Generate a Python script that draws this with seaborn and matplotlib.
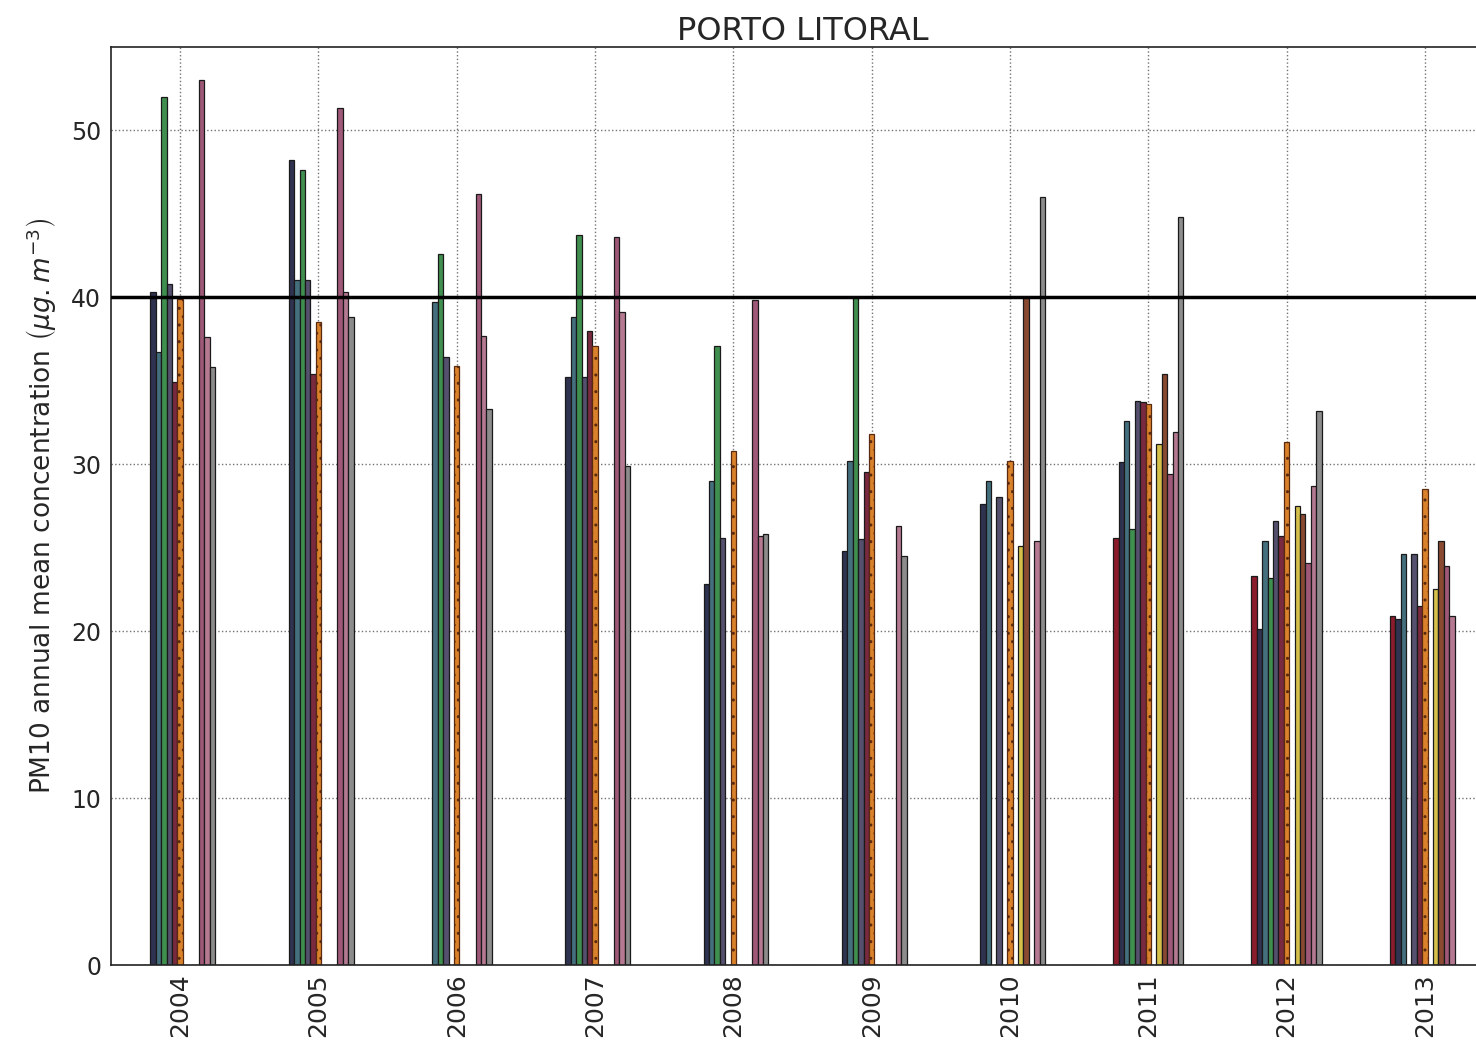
import numpy as np
import pandas as pd
import matplotlib
matplotlib.use("Agg")
import matplotlib.pyplot as plt
import seaborn as sns

# =====================================================================
# DATA: PM10 annual means per station, one list per year (NaN = no data)
# =====================================================================
years = ["2004", "2005", "2006", "2007", "2008", "2009", "2010", "2011", "2012", "2013"]
stations = ["S01", "S02", "S03", "S04", "S05", "S06", "S07",
            "S08", "S09", "S10", "S11", "S12", "S13"]
station_colors = ["#8b1c2c", "#2f3350", "#44707e", "#3f8f4f", "#54506e", "#7a2a3e", "#d9822b",
                  "#b0a0c0", "#d4c04a", "#8a4a32", "#a05878", "#b57a92", "#8c8c8c"]

nan = np.nan
pm10_2004 = [nan, 40.3, 36.7, 52.0, 40.8, 34.9, 39.9, nan, nan, nan, 53.0, 37.6, 35.8]
pm10_2005 = [nan, 48.2, 41.0, 47.6, 41.0, 35.4, 38.5, nan, nan, nan, 51.3, 40.3, 38.8]
pm10_2006 = [nan, nan, 39.7, 42.6, 36.4, nan, 35.9, nan, nan, nan, 46.2, 37.7, 33.3]
pm10_2007 = [nan, 35.2, 38.8, 43.7, 35.2, 38.0, 37.1, nan, nan, nan, 43.6, 39.1, 29.9]
pm10_2008 = [nan, 22.8, 29.0, 37.1, 25.6, nan, 30.8, nan, nan, nan, 39.8, 25.7, 25.8]
pm10_2009 = [nan, 24.8, 30.2, 40.0, 25.5, 29.5, 31.8, nan, nan, nan, nan, 26.3, 24.5]
pm10_2010 = [nan, 27.6, 29.0, nan, 28.0, nan, 30.2, nan, 25.1, 40.0, nan, 25.4, 46.0]
pm10_2011 = [25.6, 30.1, 32.6, 26.1, 33.8, 33.7, 33.6, nan, 31.2, 35.4, 29.4, 31.9, 44.8]
pm10_2012 = [23.3, 20.1, 25.4, 23.2, 26.6, 25.7, 31.3, nan, 27.5, 27.0, 24.1, 28.7, 33.2]
pm10_2013 = [20.9, 20.7, 24.6, nan, 24.6, 21.5, 28.5, nan, 22.5, 25.4, 23.9, 20.9, nan]

limit_value = 40

all_years = [pm10_2004, pm10_2005, pm10_2006, pm10_2007, pm10_2008,
             pm10_2009, pm10_2010, pm10_2011, pm10_2012, pm10_2013]

rows = []
for yr, vals in zip(years, all_years):
    for st, v in zip(stations, vals):
        rows.append({"year": yr, "station": st, "pm10": v})
df = pd.DataFrame(rows).dropna()

# =====================================================================
# PLOT
# =====================================================================
sns.set_style("white")
plt.rcParams['font.family'] = ['DejaVu Sans']

fig = plt.figure(figsize=(14.76, 10.46), dpi=100)
ax = fig.add_axes([0.0752, 0.0774, 0.937, 0.878])

sns.barplot(data=df, x="year", y="pm10", hue="station",
            order=years, hue_order=stations, palette=station_colors,
            width=0.507, gap=0, dodge=True, saturation=1, errorbar=None,
            edgecolor="#1a1a1a", linewidth=0.9, legend=False, ax=ax)

# orange station gets the dotted hatch
for p in ax.patches:
    fc = p.get_facecolor()
    if abs(fc[0] - 0xd9 / 255) < 0.01 and abs(fc[1] - 0x82 / 255) < 0.01:
        p.set_hatch("..")
        p.set_edgecolor("#5a2a10")

ax.axhline(limit_value, color="black", linewidth=2.5, zorder=5)

ax.set_xlim(-0.5, 9.5)
ax.set_ylim(0, 55)
ax.set_yticks([0, 10, 20, 30, 40, 50])
ax.set_axisbelow(True)
ax.grid(True, linestyle=":", color="0.45", linewidth=1.0)

for s in ax.spines.values():
    s.set_color("#222222")
    s.set_linewidth(1.2)

ax.tick_params(axis="x", labelrotation=90, labelsize=18, direction="in", length=6, pad=6)
ax.tick_params(axis="y", labelsize=17, direction="in", length=6, pad=7)
ax.set_xlabel("")
ax.set_ylabel(r"PM10 annual mean concentration $\left(\mu g.m^{-3}\right)$", fontsize=19, labelpad=9)
ax.set_title("PORTO LITORAL", fontsize=23, pad=5)

fig.savefig("out.png", dpi=100)
